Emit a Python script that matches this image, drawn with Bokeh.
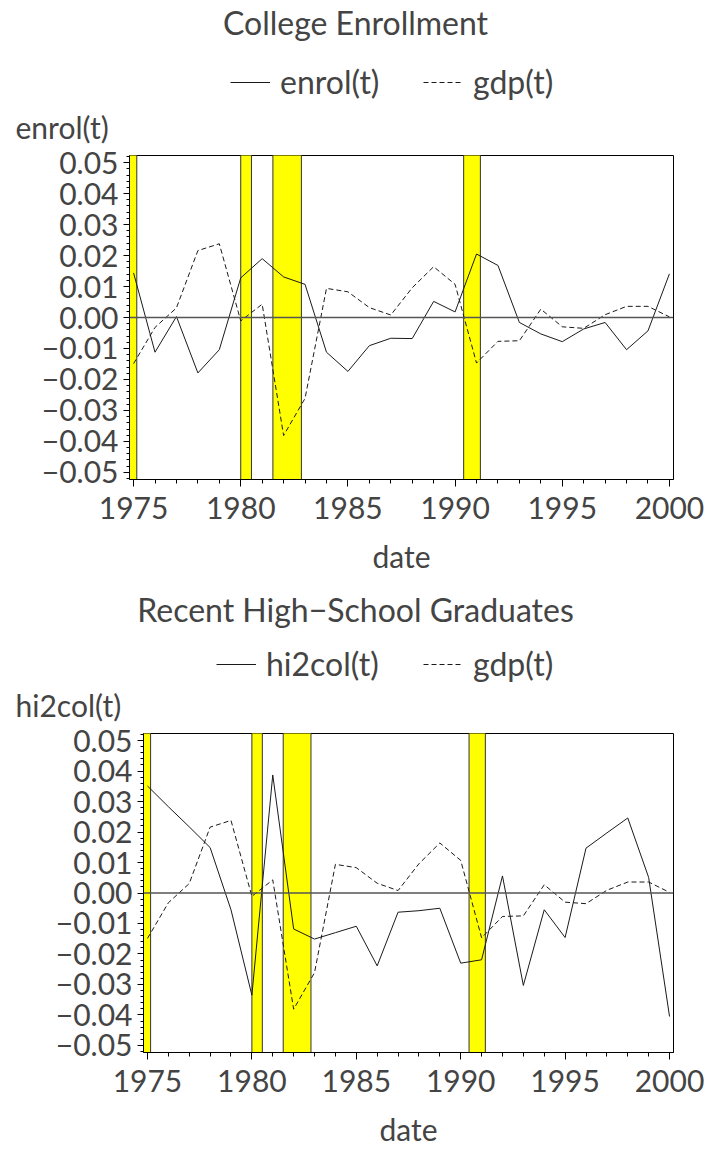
from bokeh.plotting import figure
from bokeh.models import Range1d, FixedTicker, Span, Legend, LegendItem
from bokeh.core.properties import value
from bokeh.layouts import column
from bokeh.embed import file_html
from bokeh.resources import INLINE

# ---------------- data ----------------
years = list(range(1975, 2001))
enrol = [0.0144, -0.0112, 0.0003, -0.0179, -0.0104, 0.0128, 0.0190, 0.0131, 0.0107,
         -0.0112, -0.0174, -0.0091, -0.0067, -0.0068, 0.0052, 0.0018, 0.0205, 0.0168,
         -0.0016, -0.0053, -0.0078, -0.0037, -0.0016, -0.0104, -0.0043, 0.0141]
gdp = [-0.0149, -0.0032, 0.0031, 0.0216, 0.0238, -0.0011, 0.0043, -0.0381, -0.0261,
       0.0094, 0.0083, 0.0032, 0.0008, 0.0096, 0.0164, 0.0107, -0.0147, -0.0077,
       -0.0075, 0.0027, -0.0030, -0.0035, 0.0009, 0.0036, 0.0036, 0.0002]
hi2col = [0.0351, 0.0283, 0.0217, 0.0149, -0.0055, -0.0335, 0.0387, -0.0118, -0.0151,
          -0.0130, -0.0109, -0.0239, -0.0063, -0.0058, -0.0050, -0.0230, -0.0219, 0.0056,
          -0.0303, -0.0055, -0.0146, 0.0147, 0.0197, 0.0246, 0.0051, -0.0405]
rec_start = [1974.0, 1980.0, 1981.5, 1990.4]
rec_end = [1975.15, 1980.5, 1982.83, 1991.18]

x_ticks = [1975, 1980, 1985, 1990, 1995, 2000]
x_labels = ["1975", "1980", "1985", "1990", "1995", "2000"]
y_ticks = [-0.05, -0.04, -0.03, -0.02, -0.01, 0.0, 0.01, 0.02, 0.03, 0.04, 0.05]
y_labels = ["\u22120.05", "\u22120.04", "\u22120.03", "\u22120.02", "\u22120.01", "0.00",
            "0.01", "0.02", "0.03", "0.04", "0.05"]

FONT = "Lato"
TXT = "#444444"
LINE = "#1a1a1a"
XR = (1974.81, 2000.19)
YR = (-0.0523, 0.0523)
W = 708


def header(h, title, title_y, name, name_y, leg_y, solid_x, dash_x):
    """Title, legend and y-axis name above a chart (pixel coordinates)."""
    hp = figure(width=W, height=h, x_range=Range1d(0, W), y_range=Range1d(h, 0),
                x_axis_type=None, y_axis_type=None, output_backend="svg",
                toolbar_location=None, min_border=0, min_border_left=0,
                min_border_right=0, min_border_top=0, min_border_bottom=0,
                frame_align=False)
    hp.outline_line_color = None
    hp.grid.visible = False
    hp.background_fill_color = "white"
    hp.border_fill_color = "white"
    hp.text(x=[355], y=[title_y], text=[title], text_align="center",
            text_baseline="middle", text_font=value(FONT), text_font_size="32px",
            text_color=TXT)
    hp.text(x=[15], y=[name_y], text=[name], text_align="left",
            text_baseline="middle", text_font=value(FONT), text_font_size="30px",
            text_color=TXT)
    # off-screen stand-ins that only provide the legend's line samples
    s = hp.line(x=[-50, -40], y=[-50, -40], line_color=LINE, line_width=1)
    d = hp.line(x=[-50, -40], y=[-50, -40], line_color=LINE, line_width=1, line_dash="5 3")
    leg_h = 38
    for r, lab, lx in ((s, name, solid_x), (d, "gdp(t)", dash_x)):
        lg = Legend(items=[LegendItem(label=lab, renderers=[r])],
                    location=(lx, h - leg_y - leg_h / 2),
                    orientation="horizontal", glyph_width=40, glyph_height=leg_h,
                    label_height=leg_h, label_standoff=10, padding=0, margin=0,
                    border_line_alpha=0, background_fill_alpha=0,
                    label_text_font=FONT, label_text_font_size="32px",
                    label_text_color=TXT)
        hp.add_layout(lg, "center")
    return hp


def chart(series, left, top, fw, fh, bottom):
    right = W - left - fw
    p = figure(width=W, height=top + fh + bottom,
               x_range=Range1d(*XR), y_range=Range1d(*YR),
               output_backend="svg", toolbar_location=None,
               min_border_left=left, min_border_right=right,
               min_border_top=top, min_border_bottom=bottom, frame_align=False)
    p.background_fill_color = "white"
    p.border_fill_color = "white"
    p.outline_line_color = "black"
    p.outline_line_width = 1
    p.grid.visible = False

    p.quad(left=rec_start, right=rec_end, bottom=-1, top=1,
           fill_color="#ffff00", line_color="#333333", line_width=1)
    p.add_layout(Span(location=0, dimension="width", line_color="#555555", line_width=1.6))
    p.line(years, series, line_color=LINE, line_width=1)
    p.line(years, gdp, line_color=LINE, line_width=1, line_dash="5 3")

    xa = p.xaxis[0]
    xa.ticker = FixedTicker(ticks=x_ticks, minor_ticks=years)
    xa.major_label_overrides = dict(zip(x_ticks, x_labels))
    xa.major_tick_out = 7
    xa.major_tick_in = 0
    xa.minor_tick_out = 4
    xa.minor_tick_in = 0
    xa.major_label_standoff = 10
    xa.axis_label = "date"
    xa.axis_label_standoff = 16
    ya = p.yaxis[0]
    ya.ticker = FixedTicker(ticks=y_ticks, minor_ticks=[i / 500 for i in range(-26, 27)])
    ya.major_label_overrides = dict(zip(y_ticks, y_labels))
    ya.major_tick_out = 6
    ya.major_tick_in = 0
    ya.minor_tick_out = 3
    ya.minor_tick_in = 0
    ya.major_label_standoff = 5
    for ax in (xa, ya):
        ax.axis_line_color = "black"
        ax.major_tick_line_color = "black"
        ax.minor_tick_line_color = "black"
        ax.major_label_text_font = FONT
        ax.major_label_text_font_size = "30px"
        ax.major_label_text_color = TXT
        ax.axis_label_text_font = FONT
        ax.axis_label_text_font_size = "30px"
        ax.axis_label_text_font_style = "normal"
        ax.axis_label_text_color = TXT
    return p


h1 = header(144, "College Enrollment", 22, "enrol(t)", 126, 82, 230, 423)
p1 = chart(enrol, left=129, top=11, fw=544, fh=324, bottom=99)
h2 = header(144, "Recent High\u2212School Graduates", 31, "hi2col(t)", 126, 86, 216, 423)
p2 = chart(hi2col, left=143, top=11, fw=530, fh=325, bottom=91)

layout = column(h1, p1, h2, p2, spacing=0)
open("out.html", "w").write(file_html(layout, INLINE))
